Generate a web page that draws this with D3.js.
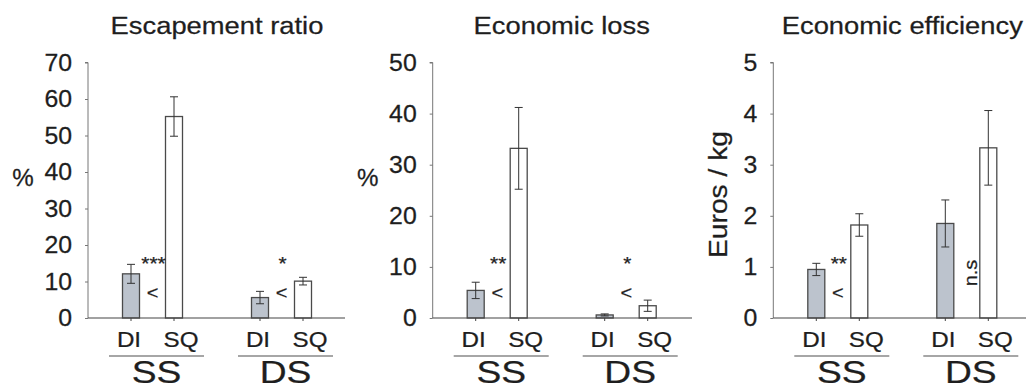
<!DOCTYPE html>
<html>
<head>
<meta charset="utf-8">
<script src="https://cdn.jsdelivr.net/npm/d3@7"></script>
<style>
  body { margin: 0; background: #fff; }
  svg { display: block; }
  text { font-family: "Liberation Sans", Arial, sans-serif; fill: #1e1e1e; stroke: #1e1e1e; stroke-width: 0.25; }
</style>
</head>
<body>
<svg width="1026" height="389"></svg>
<script>
// Data
//-----------------------------------------------------------//
const groups = ["SS", "DS"];
const treatments = ["DI", "SQ"];

const titles = ["Escapement ratio", "Economic loss", "Economic efficiency"];
const yLabels = ["%", "%", "Euros / kg"];
const yMax = [70, 50, 5];
const yStep = [10, 10, 1];

// volgorde: SS-DI, SS-SQ, DS-DI, DS-SQ
const escapeMean = [12.1, 55.2, 5.6, 10.1];
const escapeErr = [2.6, 5.4, 1.7, 1.05];
const lossMean = [5.4, 33.2, 0.6, 2.4];
const lossErr = [1.6, 8.0, 0.2, 1.1];
const effMean = [0.95, 1.82, 1.85, 3.33];
const effErr = [0.12, 0.22, 0.46, 0.73];

const stars = [["***", "*"], ["**", "*"], ["**", "n.s"]];
const signs = [["<", "<"], ["<", "<"], ["<", null]];

const means = [escapeMean, lossMean, effMean];
const errs = [escapeErr, lossErr, effErr];

// Layout
//-----------------------------------------------------------//
const svg = d3.select("svg");
const axisX = [88, 432.7, 773.3];
const axisEnd = [345, 692, 1026];
const yTop = 62.5, yBottom = 318;
const barW = 17;

// tekst met horizontale rek (lettertype in origineel is breder)
function txt(g, x, y, s, size, sx, anchor, rot) {
  return g.append("text")
    .attr("transform", `translate(${x},${y})` + (rot ? ` rotate(${rot})` : "") + ` scale(${sx},1)`)
    .attr("text-anchor", anchor || "middle")
    .style("font-size", size + "px")
    .text(s);
}

titles.forEach((title, p) => {
  const x0 = axisX[p];
  const g = svg.append("g");

  const y = d3.scaleLinear().domain([0, yMax[p]]).range([yBottom, yTop]);
  const xGroup = d3.scaleBand().domain(groups).range([x0, x0 + 258]);
  const xInner = d3.scalePoint().domain(treatments).range([-21.5, 21.5]);

  const rows = [];
  groups.forEach((gr, gi) => treatments.forEach((t, ti) => {
    const i = gi * 2 + ti;
    rows.push({ group: gr, t: t, mean: means[p][i], err: errs[p][i] });
  }));
  const cx = d => xGroup(d.group) + xGroup.bandwidth() / 2 + xInner(d.t);

  // titel
  txt(g, x0 + 129, 34, title, 24, 1.14);

  // y-as
  const yAxis = g.append("g")
    .attr("transform", `translate(${x0},0)`)
    .call(d3.axisLeft(y).tickValues(d3.range(0, yMax[p] + 0.001, yStep[p])).tickSize(3).tickFormat(""));
  yAxis.select(".domain").attr("stroke", "#777").attr("d", `M-3,${yTop}H0V${yBottom}`);
  yAxis.selectAll(".tick line").attr("stroke", "#777");
  y.ticks(yMax[p] / yStep[p]).forEach(v => {
    txt(g, x0 - 16, y(v) + 8, d3.format("d")(v), 23, 1.08, "end");
  });

  // y-label
  if (p < 2) txt(g, x0 - 65, 186, yLabels[p], 23, 1.05);
  else txt(g, x0 - 46, 194.5, yLabels[p], 25, 1.13, "middle", -90);

  // bars
  g.selectAll("rect.bar").data(rows).join("rect")
    .attr("class", "bar")
    .attr("x", d => cx(d) - barW / 2)
    .attr("y", d => y(d.mean))
    .attr("width", barW)
    .attr("height", d => y(0) - y(d.mean))
    .attr("fill", d => d.t === "DI" ? "#bcc3cd" : "#fff")
    .attr("stroke", "#4a4a4a")
    .attr("stroke-width", 1.3);

  // foutbalken
  const eb = g.selectAll("g.err").data(rows).join("g").attr("class", "err")
    .attr("stroke", "#333").attr("stroke-width", 1);
  eb.append("line")
    .attr("x1", cx).attr("x2", cx)
    .attr("y1", d => y(d.mean + d.err)).attr("y2", d => y(d.mean - d.err));
  eb.append("line")
    .attr("x1", d => cx(d) - 4).attr("x2", d => cx(d) + 4)
    .attr("y1", d => y(d.mean + d.err)).attr("y2", d => y(d.mean + d.err));
  eb.append("line")
    .attr("x1", d => cx(d) - 4).attr("x2", d => cx(d) + 4)
    .attr("y1", d => y(d.mean - d.err)).attr("y2", d => y(d.mean - d.err));

  // x-as
  g.append("line")
    .attr("x1", x0).attr("x2", axisEnd[p])
    .attr("y1", yBottom).attr("y2", yBottom)
    .attr("stroke", "#444").attr("stroke-width", 1.2);
  g.selectAll("line.xt").data(rows).join("line").attr("class", "xt")
    .attr("x1", cx).attr("x2", cx)
    .attr("y1", yBottom).attr("y2", yBottom + 3)
    .attr("stroke", "#444");

  // labels onder de as
  rows.forEach(d => {
    txt(g, cx(d) + (d.t === "DI" ? -2 : 7), 347, d.t, 22, 1.1);
  });
  groups.forEach((gr, gi) => {
    const gc = xGroup(gr) + xGroup.bandwidth() / 2 + 4;
    g.append("line")
      .attr("x1", gc - 47.5).attr("x2", gc + 47.5)
      .attr("y1", 356).attr("y2", 356)
      .attr("stroke", "#888").attr("stroke-width", 1.5);
    txt(g, gc, 382.5, gr, 31, 1.2);

    // significantie
    const mc = xGroup(gr) + xGroup.bandwidth() / 2;
    const s = stars[p][gi];
    if (s === "n.s") {
      txt(g, mc + 10, 273, s, 19, 1.05, "middle", -90);
    } else {
      txt(g, mc + 1, 270, s, 19, 1.1);
    }
    if (signs[p][gi]) txt(g, mc, 299, signs[p][gi], 19, 1.05);
  });
});
</script>
</body>
</html>
